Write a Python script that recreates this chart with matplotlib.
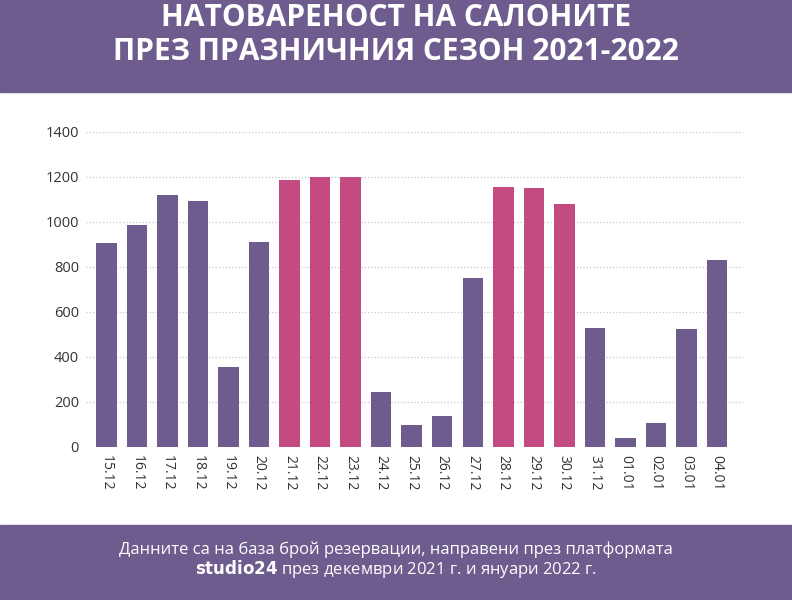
import matplotlib.pyplot as plt
import numpy as np

# data
dates = ['15.12', '16.12', '17.12', '18.12', '19.12', '20.12', '21.12', '22.12',
         '23.12', '24.12', '25.12', '26.12', '27.12', '28.12', '29.12', '30.12',
         '31.12', '01.01', '02.01', '03.01', '04.01']
bookings = [905, 985, 1120, 1090, 355, 910, 1185, 1197, 1200, 242, 96, 136,
            748, 1155, 1150, 1078, 527, 40, 104, 522, 828]
peak_days = ['21.12', '22.12', '23.12', '28.12', '29.12', '30.12']
yticks = [0, 200, 400, 600, 800, 1000, 1200, 1400]

purple = '#6e5c8e'
pink = '#c44b82'

plt.rcParams['font.family'] = ['Open Sans', 'DejaVu Sans']

fig = plt.figure(figsize=(7.92, 6), dpi=100)
fig.patch.set_facecolor('white')

# header and footer bands
fig.patches.append(plt.Rectangle((0, 1 - 92 / 600), 1, 92 / 600, transform=fig.transFigure,
                                 color=purple, zorder=0))
fig.patches.append(plt.Rectangle((0, 0), 1, 75 / 600, transform=fig.transFigure,
                                 color=purple, zorder=0))

fig.text(0.5, 1 - 18 / 600, 'НАТОВАРЕНОСТ НА САЛОНИТЕ', ha='center', va='center',
         color='white', fontsize=21.5, fontweight='bold')
fig.text(0.5, 1 - 52 / 600, 'ПРЕЗ ПРАЗНИЧНИЯ СЕЗОН 2021-2022', ha='center', va='center',
         color='white', fontsize=21.5, fontweight='bold')

fig.text(0.5, 1 - 550 / 600, 'Данните са на база брой резервации, направени през платформата',
         ha='center', va='center', color='white', fontsize=12)
fig.text(0.5, 1 - 569 / 600, r'$\bf{studio24}$' + ' през декември 2021 г. и януари 2022 г.',
         ha='center', va='center', color='white', fontsize=12)

ax = fig.add_axes([86 / 792, 1 - 446.7 / 600, 657 / 792, 315 / 600])
x = np.arange(len(dates))
colors = [pink if d in peak_days else purple for d in dates]
ax.bar(x, bookings, width=0.67, color=colors, zorder=2)

ax.set_xlim(-0.665, 20.85)
ax.set_ylim(0, 1400)
ax.set_yticks(yticks)
ax.set_yticklabels([str(v) for v in yticks], fontsize=10.5, color='#333333')
ax.set_xticks(x)
ax.set_xticklabels(dates, rotation=270, fontsize=10, color='#333333')
ax.tick_params(length=0)
ax.tick_params(axis='y', pad=5)
ax.tick_params(axis='x', pad=6)
ax.yaxis.grid(True, linestyle=':', color='#c8c8c8', linewidth=0.9, zorder=0)
ax.set_axisbelow(True)
for s in ax.spines.values():
    s.set_visible(False)

fig.savefig('out.png', dpi=100)
